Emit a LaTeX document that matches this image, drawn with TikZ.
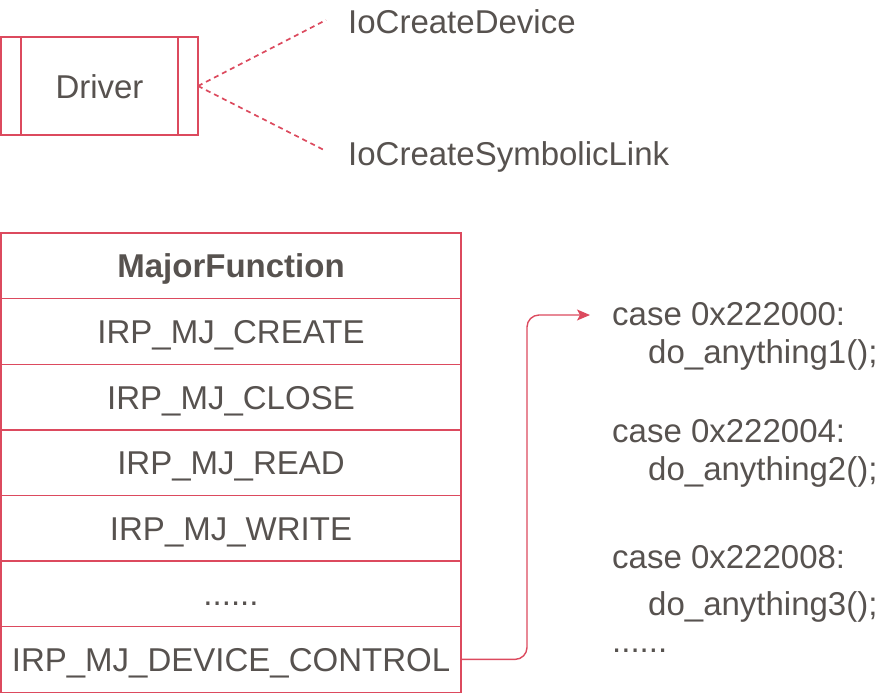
\documentclass[tikz,border=0pt]{standalone}
\usepackage{fontspec}
\setmainfont{Liberation Sans}
\usetikzlibrary{arrows.meta,calc}
\definecolor{lred}{HTML}{DC4A5E}
\definecolor{tgray}{HTML}{57524F}
\tikzset{
  txt/.style={font=\fontsize{33}{40}\selectfont, text=tgray, inner sep=0pt},
  row/.style={draw=lred, line width=1.4pt, minimum width=460pt, minimum height=65.6pt,
    inner sep=0pt, outer sep=0pt, text height=24pt, text depth=0pt, font=\fontsize{33}{40}\selectfont, text=tgray},
  link/.style={draw=lred, line width=1.7pt, dash pattern=on 5pt off 4pt},
  conn/.style={draw=lred, line width=1.4pt, rounded corners=12pt, -{Stealth[length=13pt,width=11pt,inset=3pt]}}
}
\begin{document}
\begin{tikzpicture}[x=1pt,y=-1pt]
\useasboundingbox (0,0) rectangle (890,699);
% Driver
\node[draw=lred, line width=1.4pt, minimum width=197pt, minimum height=98pt, inner sep=0pt, outer sep=0pt,
  text height=24pt, text depth=0pt, font=\fontsize{33}{40}\selectfont, text=tgray] (drv) at (99.5,86) {Driver};
\draw[lred, line width=1.4pt] ($(drv.north west)+(20,0)$) -- ($(drv.south west)+(20,0)$);
\draw[lred, line width=1.4pt] ($(drv.north east)+(-20,0)$) -- ($(drv.south east)+(-20,0)$);
\node[txt, anchor=base west] (icd) at (348,33) {IoCreateDevice};
\node[txt, anchor=base west] (icsl) at (348,165) {IoCreateSymbolicLink};
\coordinate (e1) at (326,20);
\coordinate (e2) at (326,151);
\draw[link] (drv.east) -- (e1);
\draw[link] (drv.east) -- (e2);
% Table
\node[row, font=\fontsize{33}{40}\selectfont\bfseries] (hdr) at (231,265.8) {MajorFunction};
\node[row, anchor=north] (r1) at (hdr.south) {IRP\_MJ\_CREATE};
\node[row, anchor=north] (r2) at (r1.south) {IRP\_MJ\_CLOSE};
\node[row, anchor=north] (r3) at (r2.south) {IRP\_MJ\_READ};
\node[row, anchor=north] (r4) at (r3.south) {IRP\_MJ\_WRITE};
\node[row, anchor=north] (r5) at (r4.south) {......};
\node[row, anchor=north] (dc) at (r5.south) {IRP\_MJ\_DEVICE\_CONTROL};
% Code
\node[txt, anchor=base west] (c1) at (612,325) {case 0x222000:};
\node[txt, anchor=base west] (d1) at (648,363) {do\_anything1();};
\node[txt, anchor=base west] (c2) at (612,442) {case 0x222004:};
\node[txt, anchor=base west] (d2) at (648,480) {do\_anything2();};
\node[txt, anchor=base west] (c3) at (612,568) {case 0x222008:};
\node[txt, anchor=base west] (d3) at (648,615) {do\_anything3();};
\node[txt, anchor=base west] (dots) at (612,652) {......};
\coordinate (tgt) at (590,315);
\coordinate (bend) at (527,0);
\draw[conn] (dc.east) -- (dc.east -| bend) -- (bend |- tgt) -- (tgt);
\end{tikzpicture}
\end{document}
